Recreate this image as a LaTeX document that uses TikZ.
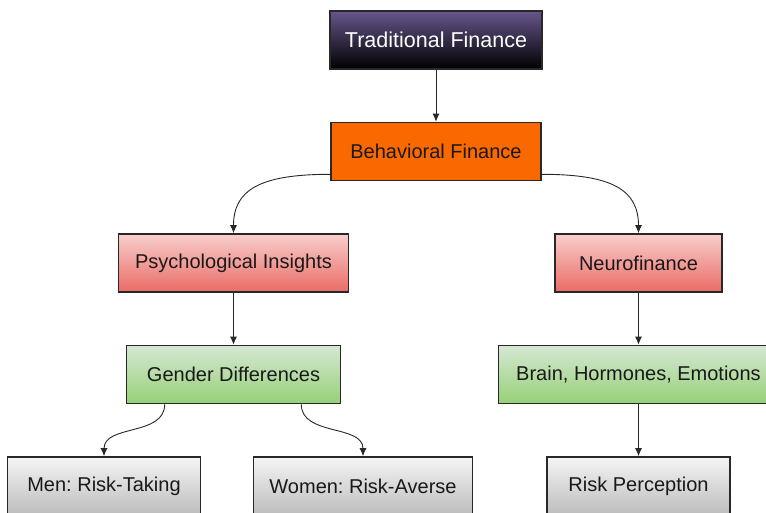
\documentclass[tikz,border=0pt]{standalone}
\usepackage{fontspec}
\setmainfont{Liberation Sans}
\frenchspacing
\usetikzlibrary{arrows.meta}
\definecolor{purpletop}{RGB}{104,86,140}
\definecolor{orangefill}{RGB}{250,104,0}
\definecolor{redtop}{RGB}{248,206,204}
\definecolor{redbot}{RGB}{234,107,102}
\definecolor{greentop}{RGB}{213,232,212}
\definecolor{greenbot}{RGB}{151,208,119}
\definecolor{graytop}{RGB}{245,245,245}
\definecolor{graybot}{RGB}{188,188,188}
\definecolor{edgegray}{RGB}{40,40,40}
\tikzset{% common styles of the boxes
  box/.style      = {shape=rectangle, draw=edgegray, line width=1.6pt,
                     align=center, minimum height=58pt, inner sep=0pt,
                     font=\fontsize{20}{24}\selectfont, text=black!90},
  tradbox/.style  = {box, top color=purpletop, bottom color=black,
                     text=white, font=\fontsize{21.5}{26}\selectfont},
  behavbox/.style = {box, fill=orangefill},
  redbox/.style   = {box, top color=redtop, bottom color=redbot},
  greenbox/.style = {box, top color=greentop, bottom color=greenbot},
  graybox/.style  = {box, top color=graytop, bottom color=graybot},
  % connectors
  straight/.style  = {edge from parent path={(\tikzparentnode) -- (\tikzchildnode)}},
  bendleft/.style  = {edge from parent path={([yshift=7pt]\tikzparentnode.south west)
                       .. controls +(-71pt,0pt) and +(0pt,43pt) .. (\tikzchildnode.north)}},
  bendright/.style = {edge from parent path={([yshift=7pt]\tikzparentnode.south east)
                       .. controls +(71pt,0pt) and +(0pt,43pt) .. (\tikzchildnode.north)}},
  sleft/.style     = {edge from parent path={([xshift=39pt]\tikzparentnode.south west)
                       .. controls +(0pt,-32pt) and +(0pt,32pt) .. (\tikzchildnode.north)}},
  sright/.style    = {edge from parent path={([xshift=-40pt]\tikzparentnode.south east)
                       .. controls +(0pt,-32pt) and +(0pt,32pt) .. (\tikzchildnode.north)}},
}
\begin{document}
\begin{tikzpicture}[% local settings for tree
            level distance           = 111.5pt,
            level 2/.style           = {sibling distance=405pt},
            level 4/.style           = {sibling distance=259pt},
            edge from parent/.style  = {draw=edgegray, line width=0.9pt,
                                        -{Latex[length=8pt,width=7pt]}},
        ]
        \clip (0pt,0pt) rectangle (766pt,-512pt);
        \node [tradbox, minimum width=212pt] (trad) at (436pt,-40pt) {Traditional Finance}
        child [straight] { node [behavbox, minimum width=210pt] (behav) {Behavioral Finance}
                child [bendleft] { node [redbox, minimum width=230pt] (psych) {Psychological Insights}
                        child [straight] { node [greenbox, minimum width=214pt] (gender) {Gender Differences}
                                child [sleft] { node [graybox, minimum width=193pt] (men) {Men: Risk-Taking}}
                                child [sright] { node [graybox, minimum width=219pt] (women) {Women: Risk-Averse}}
                        }
                }
                child [bendright] { node [redbox, minimum width=167pt] (neuro) {Neurofinance}
                        child [straight] { node [greenbox, minimum width=280pt] (brain) {Brain, Hormones, Emotions}
                                child [straight] { node [graybox, minimum width=183pt] (risk) {Risk Perception}}
                        }
                }
        };
    \end{tikzpicture}
\end{document}
